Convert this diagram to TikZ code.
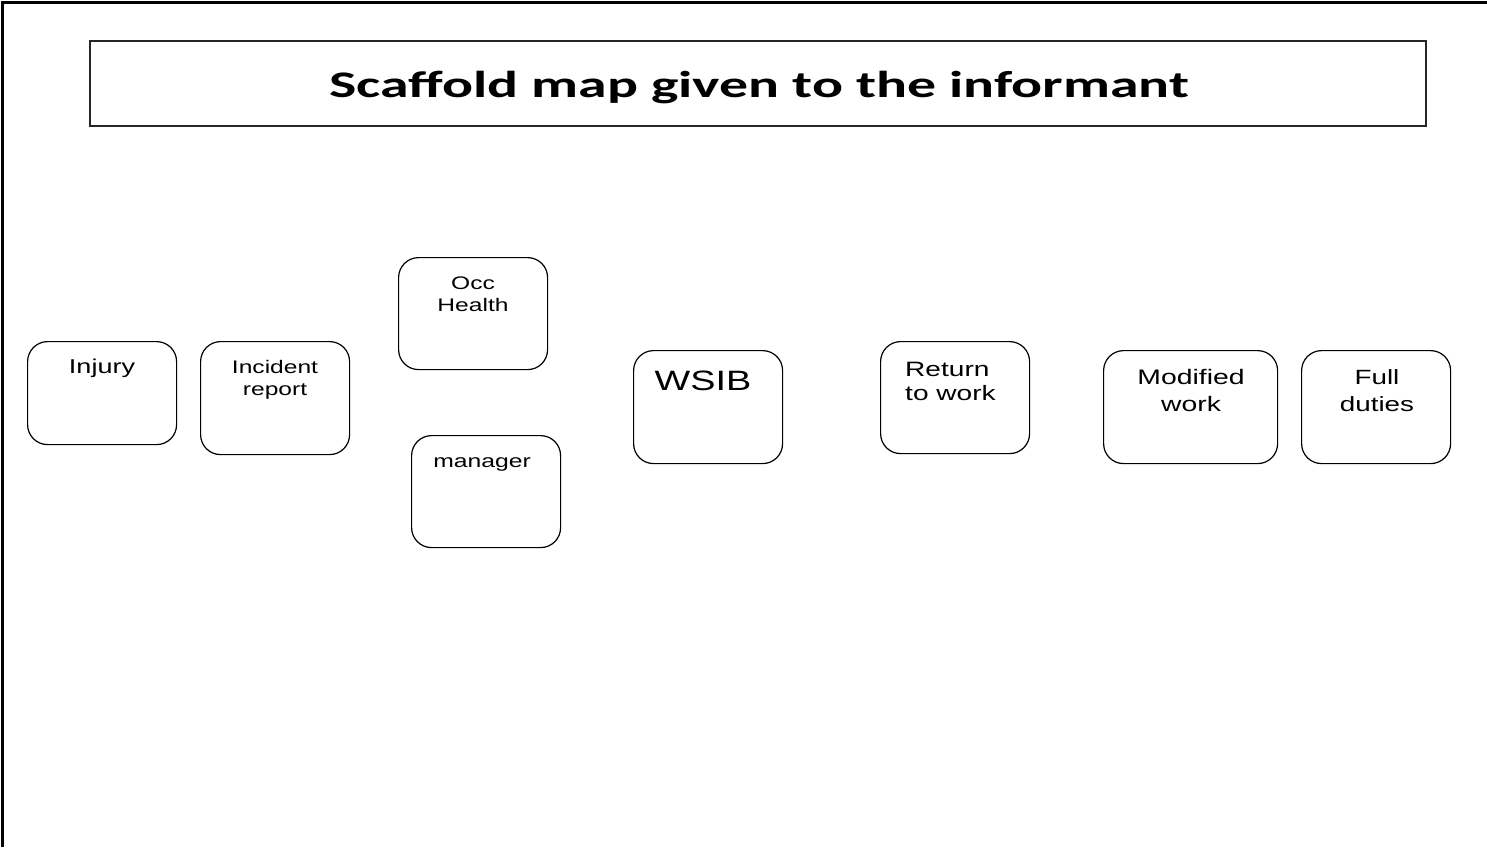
\documentclass[tikz,border=0pt]{standalone}
\usepackage{fontspec}
\newfontfamily\boxfont[FakeStretch=1.35]{Liberation Sans}
\newfontfamily\titlefont[FakeStretch=1.54]{Carlito}
\begin{document}
\begin{tikzpicture}[x=1pt,y=-1pt]
\tikzset{
  frame/.style={line width=3pt,black},
  titlebox/.style={draw=black!85,line width=1.5pt,rectangle,inner sep=0pt,anchor=north west},
  stagebox/.style={draw=black,line width=1.2pt,rectangle,rounded corners=20pt,inner sep=0pt,anchor=north west,fill=white},
  stagetext/.style={inner sep=0pt,anchor=base,align=center,font=\boxfont},
}
\useasboundingbox (0,0) rectangle (1487,847);
\fill[white] (0,0) rectangle (1487,847);

% outer page frame (left and top edges)
\coordinate (fbl) at (2.5,847);
\coordinate (ftl) at (2.5,2.5);
\coordinate (ftr) at (1487,2.5);
\draw[frame] (fbl) -- (ftl) -- (ftr);

% title banner
\node[titlebox,minimum width=1336pt,minimum height=85pt] (title) at (89,40) {};
\node[inner sep=0pt,anchor=base,font=\titlefont\bfseries\fontsize{37.5}{40}\selectfont] (titletext) at (759,97) {Scaffold map given to the informant};

% stage boxes
\node[stagebox,minimum width=149pt,minimum height=103pt] (injury) at (27,341) {};
\node[stagebox,minimum width=149pt,minimum height=113pt] (incident) at (200,341) {};
\node[stagebox,minimum width=149pt,minimum height=112pt] (occ) at (398,257) {};
\node[stagebox,minimum width=149pt,minimum height=112pt] (manager) at (411,435) {};
\node[stagebox,minimum width=149pt,minimum height=113pt] (wsib) at (633,350) {};
\node[stagebox,minimum width=149pt,minimum height=112pt] (rtw) at (880,341) {};
\node[stagebox,minimum width=174pt,minimum height=113pt] (modified) at (1103,350) {};
\node[stagebox,minimum width=149pt,minimum height=113pt] (full) at (1301,350) {};

% stage labels (anchor=base sits on the last line's baseline)
\node[stagetext,font=\boxfont\fontsize{20}{24}\selectfont] (injuryt) at (102,373) {Injury};
\node[stagetext,font=\boxfont\fontsize{18.2}{22}\selectfont] (incidentt) at (275,395) {Incident\\report};
\node[stagetext,font=\boxfont\fontsize{18.2}{22}\selectfont] (occt) at (473,311) {Occ\\Health};
\node[stagetext,font=\boxfont\fontsize{18.3}{22}\selectfont] (managert) at (482,467) {manager};
\node[stagetext,font=\boxfont\fontsize{28}{32}\selectfont] (wsibt) at (703,390) {WSIB};
\node[stagetext,align=left,anchor=base west,font=\boxfont\fontsize{20.8}{24}\selectfont] (rtwt) at (905,400) {Return\\to work};
\node[stagetext,font=\boxfont\fontsize{21}{27}\selectfont] (modifiedt) at (1191,411) {Modified\\work};
\node[stagetext,font=\boxfont\fontsize{20.6}{27}\selectfont] (fullt) at (1377,411) {Full\\duties};
\end{tikzpicture}
\end{document}
